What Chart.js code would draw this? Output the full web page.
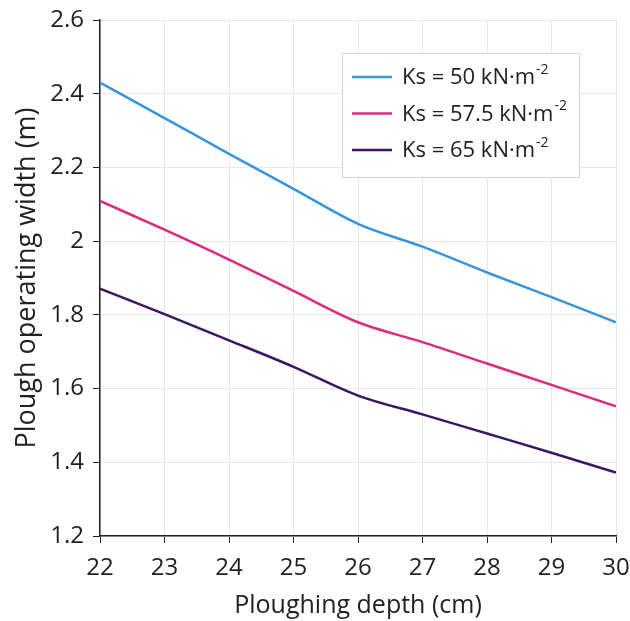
<!DOCTYPE html>
<html>
<head>
<meta charset="utf-8">
<script src="https://cdn.jsdelivr.net/npm/chart.js@4.4.0/dist/chart.umd.min.js"></script>
<style>
  html, body { margin: 0; padding: 0; background: #fff; }
  #wrap { width: 630px; height: 621px; }
</style>
</head>
<body>
<div id="wrap"><canvas id="c" width="630" height="621"></canvas></div>
<script>
const depths = [22, 23, 24, 25, 26, 27, 28, 29, 30];
const ks50  = [2.43, 2.334, 2.237, 2.142, 2.047, 1.985, 1.915, 1.848, 1.78];
const ks575 = [2.109, 2.031, 1.950, 1.865, 1.780, 1.726, 1.668, 1.610, 1.552];
const ks65  = [1.871, 1.802, 1.731, 1.659, 1.581, 1.530, 1.478, 1.426, 1.372];
const seriesNames = ['Ks = 50 kN\u00b7m', 'Ks = 57.5 kN\u00b7m', 'Ks = 65 kN\u00b7m'];
const seriesSup = ['-2', '-2', '-2'];
const colors = ['#3795dd', '#de2a78', '#3a1762'];
const yTicks = [1.2, 1.4, 1.6, 1.8, 2, 2.2, 2.4, 2.6];

const FONT = "'Open Sans', 'Noto Sans', sans-serif";
const toPts = arr => arr.map((v, i) => ({ x: depths[i], y: v }));

const legendPlugin = {
  id: 'boxLegend',
  afterDatasetsDraw(chart) {
    const ctx = chart.ctx;
    const bx = 342, by = 53, bw = 237, bh = 124;
    ctx.save();
    ctx.fillStyle = '#fff';
    ctx.fillRect(bx, by, bw, bh);
    ctx.strokeStyle = '#d6d6d6';
    ctx.lineWidth = 1;
    ctx.strokeRect(bx + 0.5, by + 0.5, bw, bh);
    chart.data.datasets.forEach((ds, i) => {
      const cy = 77 + i * 36.5;
      ctx.strokeStyle = ds.borderColor;
      ctx.lineWidth = 2.5;
      ctx.beginPath();
      ctx.moveTo(352, cy);
      ctx.lineTo(392, cy);
      ctx.stroke();
      ctx.fillStyle = '#222';
      ctx.font = '22px ' + FONT;
      ctx.textBaseline = 'middle';
      ctx.textAlign = 'left';
      const t = seriesNames[i];
      ctx.fillText(t, 402, cy + 1);
      const w = ctx.measureText(t).width;
      ctx.font = '14px ' + FONT;
      ctx.fillText(seriesSup[i], 402 + w + 1, cy - 7);
    });
    ctx.restore();
  }
};

new Chart(document.getElementById('c'), {
  type: 'line',
  data: {
    datasets: [
      { label: seriesNames[0], data: toPts(ks50),  borderColor: colors[0] },
      { label: seriesNames[1], data: toPts(ks575), borderColor: colors[1] },
      { label: seriesNames[2], data: toPts(ks65),  borderColor: colors[2] }
    ].map(d => Object.assign(d, { borderWidth: 2.5, pointRadius: 0, fill: false, cubicInterpolationMode: 'monotone' }))
  },
  options: {
    responsive: false,
    animation: false,
    layout: { padding: { top: 20, right: 14, left: 0, bottom: 0 } },
    plugins: { legend: { display: false }, tooltip: { enabled: false } },
    scales: {
      x: {
        type: 'linear',
        min: 22, max: 30,
        afterFit: s => { s.height = 85; s.paddingLeft = 0; s.paddingRight = 0; },
        ticks: { stepSize: 1, color: '#222', font: { family: FONT, size: 24 }, padding: 11 },
        grid: { color: '#e8e8e8', tickColor: '#222', tickLength: 7, lineWidth: 1 },
        border: { color: '#222', width: 1.5 },
        title: { display: true, text: 'Ploughing depth (cm)', color: '#222', font: { family: FONT, size: 25 }, padding: { top: 0, bottom: 0 } }
      },
      y: {
        type: 'linear',
        min: 1.2, max: 2.6,
        afterFit: s => { s.width = 100; s.paddingTop = 0; s.paddingBottom = 0; },
        afterBuildTicks: s => { s.ticks = yTicks.map(v => ({ value: v })); },
        ticks: { color: '#222', font: { family: FONT, size: 24 }, padding: 9, callback: v => String(v) },
        grid: { color: '#e8e8e8', tickColor: '#222', tickLength: 7, lineWidth: 1 },
        border: { color: '#222', width: 1.5 },
        title: { display: true, text: 'Plough operating width (m)', color: '#222', font: { family: FONT, size: 27 }, padding: { top: 11, bottom: 0 } }
      }
    }
  },
  plugins: [legendPlugin]
});
</script>
</body>
</html>
